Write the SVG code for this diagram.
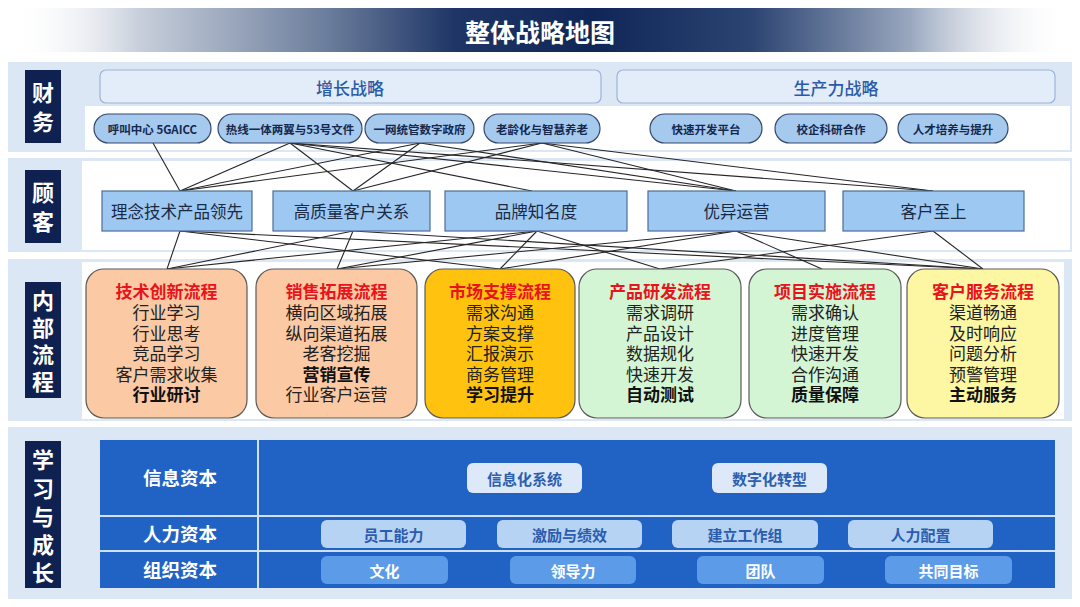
<svg xmlns="http://www.w3.org/2000/svg" width="1080" height="607" viewBox="0 0 1080 607">
<defs>
<linearGradient id="tg" x1="0" y1="0" x2="1" y2="0">
<stop offset="0" stop-color="#ffffff" stop-opacity="0"/>
<stop offset="0.12" stop-color="#c9d0dc"/>
<stop offset="0.3" stop-color="#6b7d9c"/>
<stop offset="0.42" stop-color="#1e3566"/>
<stop offset="0.55" stop-color="#0f2656"/>
<stop offset="0.7" stop-color="#2c4472"/>
<stop offset="0.85" stop-color="#9aa8bf"/>
<stop offset="1" stop-color="#ffffff" stop-opacity="0"/>
</linearGradient>
<style>
.cjk{font-family:"Noto Sans CJK SC","Noto Sans",sans-serif;text-anchor:middle;dominant-baseline:central}
.tight{font-family:"Liberation Sans","Noto Sans CJK SC",sans-serif}
.band{fill:#dce7f6}
.inner{fill:#ffffff}
.lbl{fill:#0e2150}
.lblt{font-size:22px;font-weight:bold;fill:#ffffff}
.strat{fill:#e3edf9;stroke:#9cb3d6;stroke-width:1.2}
.stratt{font-size:17px;fill:#2b5aa8;font-weight:500}
.pill{fill:#a6c9ee;stroke:#34496b;stroke-width:1.2}
.pillt{font-size:11.5px;font-weight:bold;fill:#13284f}
.cust{fill:#9dc8f2;stroke:#4d6d94;stroke-width:1.2}
.custt{font-size:16.5px;fill:#1b2a44}
.proc{stroke:#5a5a5a;stroke-width:1.2}
.ptxt{font-size:17px;fill:#222222}
.ptitle{font-weight:bold;fill:#e8141c}
.pbold{font-weight:bold;fill:#111111}
.conn line{stroke:#262626;stroke-width:1.1}
.tbl{fill:#2163c4}
.div{stroke:#cfe0f7;stroke-width:2}
.rowt{font-size:18.5px;font-weight:bold;fill:#ffffff}
.ip{fill:#dde9f8}
.ipt{font-size:15px;font-weight:bold;fill:#2d5fb0}
.hp{fill:#b7d3f4}
.hpt{font-size:15px;font-weight:bold;fill:#2b5cae}
.op{fill:#5c9be8}
.opt{font-size:15px;font-weight:bold;fill:#ffffff}
</style>
</defs>
<rect width="1080" height="607" fill="#ffffff"/>

<g id="title">
<rect x="10" y="8" width="1060" height="44" fill="url(#tg)"/>
<text class="cjk" x="540" y="31" font-size="25" font-weight="bold" fill="#ffffff">整体战略地图</text>
</g>

<g id="bands">
<rect class="band" x="8" y="62" width="1064" height="90"/>
<rect class="inner" x="85" y="106" width="985" height="44"/>
<rect class="band" x="8" y="158" width="1064" height="94"/>
<rect class="inner" x="82" y="161" width="988" height="89"/>
<rect class="band" x="8" y="259" width="1064" height="162"/>
<rect class="inner" x="82" y="262" width="982" height="157"/>
<rect class="band" x="8" y="427" width="1064" height="172"/>
</g>

<g id="label-finance">
<rect class="lbl" x="25" y="70" width="36" height="73"/>
<text class="cjk tight lblt"><tspan x="43" y="93">财</tspan><tspan x="43" y="122">务</tspan></text>
</g>
<g id="label-customer">
<rect class="lbl" x="25" y="170" width="36" height="73"/>
<text class="cjk tight lblt"><tspan x="43" y="193">顾</tspan><tspan x="43" y="222">客</tspan></text>
</g>
<g id="label-process">
<rect class="lbl" x="25" y="282" width="36" height="116"/>
<text class="cjk tight lblt"><tspan x="43" y="301">内</tspan><tspan x="43" y="328">部</tspan><tspan x="43" y="355">流</tspan><tspan x="43" y="382">程</tspan></text>
</g>
<g id="label-learning">
<rect class="lbl" x="25" y="441" width="36" height="147"/>
<text class="cjk tight lblt"><tspan x="43" y="460">学</tspan><tspan x="43" y="489">习</tspan><tspan x="43" y="517">与</tspan><tspan x="43" y="545">成</tspan><tspan x="43" y="573">长</tspan></text>
</g>

<g id="growth-strategy">
<rect class="strat" x="100" y="70" width="501" height="33" rx="6"/>
<text class="cjk stratt" x="350" y="87">增长战略</text>
</g>
<g id="productivity-strategy">
<rect class="strat" x="617" y="70" width="438" height="33" rx="6"/>
<text class="cjk stratt" x="836" y="87">生产力战略</text>
</g>

<g class="conn" id="connectors">
<line x1="153" y1="143" x2="180" y2="191"/>
<line x1="290" y1="143" x2="180" y2="191"/>
<line x1="290" y1="143" x2="353" y2="191"/>
<line x1="290" y1="143" x2="532" y2="191"/>
<line x1="290" y1="143" x2="736" y2="191"/>
<line x1="290" y1="143" x2="933" y2="191"/>
<line x1="420" y1="143" x2="353" y2="191"/>
<line x1="420" y1="143" x2="180" y2="191"/>
<line x1="420" y1="143" x2="736" y2="191"/>
<line x1="542" y1="143" x2="180" y2="191"/>
<line x1="542" y1="143" x2="353" y2="191"/>
<line x1="542" y1="143" x2="736" y2="191"/>
<line x1="542" y1="143" x2="933" y2="191"/>
<line x1="180" y1="231" x2="167" y2="269"/>
<line x1="180" y1="231" x2="500" y2="269"/>
<line x1="180" y1="231" x2="983" y2="269"/>
<line x1="353" y1="231" x2="167" y2="269"/>
<line x1="353" y1="231" x2="337" y2="269"/>
<line x1="353" y1="231" x2="983" y2="269"/>
<line x1="537" y1="231" x2="167" y2="269"/>
<line x1="537" y1="231" x2="337" y2="269"/>
<line x1="537" y1="231" x2="500" y2="269"/>
<line x1="537" y1="231" x2="660" y2="269"/>
<line x1="736" y1="231" x2="337" y2="269"/>
<line x1="736" y1="231" x2="500" y2="269"/>
<line x1="736" y1="231" x2="822" y2="269"/>
<line x1="736" y1="231" x2="983" y2="269"/>
<line x1="933" y1="231" x2="660" y2="269"/>
<line x1="933" y1="231" x2="983" y2="269"/>
</g>

<g id="pill-1"><rect class="pill" x="94" y="114" width="117" height="29" rx="14.5"/><text class="cjk pillt" x="152.5" y="128.5">呼叫中心 5GAICC</text></g>
<g id="pill-2"><rect class="pill" x="218" y="114" width="144" height="29" rx="14.5"/><text class="cjk pillt" x="290" y="128.5">热线一体两翼与53号文件</text></g>
<g id="pill-3"><rect class="pill" x="365" y="114" width="109" height="29" rx="14.5"/><text class="cjk pillt" x="419.5" y="128.5">一网统管数字政府</text></g>
<g id="pill-4"><rect class="pill" x="484" y="114" width="116" height="29" rx="14.5"/><text class="cjk pillt" x="542" y="128.5">老龄化与智慧养老</text></g>
<g id="pill-5"><rect class="pill" x="650" y="114" width="112" height="29" rx="14.5"/><text class="cjk pillt" x="706" y="128.5">快速开发平台</text></g>
<g id="pill-6"><rect class="pill" x="775" y="114" width="112" height="29" rx="14.5"/><text class="cjk pillt" x="831" y="128.5">校企科研合作</text></g>
<g id="pill-7"><rect class="pill" x="898" y="114" width="110" height="29" rx="14.5"/><text class="cjk pillt" x="953" y="128.5">人才培养与提升</text></g>

<g id="cust-1"><rect class="cust" x="102" y="191" width="150" height="40"/><text class="cjk custt" x="177" y="211">理念技术产品领先</text></g>
<g id="cust-2"><rect class="cust" x="273" y="191" width="157" height="40"/><text class="cjk custt" x="351.5" y="211">高质量客户关系</text></g>
<g id="cust-3"><rect class="cust" x="445" y="191" width="182" height="40"/><text class="cjk custt" x="536" y="211">品牌知名度</text></g>
<g id="cust-4"><rect class="cust" x="648" y="191" width="177" height="40"/><text class="cjk custt" x="736.5" y="211">优异运营</text></g>
<g id="cust-5"><rect class="cust" x="843" y="191" width="181" height="40"/><text class="cjk custt" x="933.5" y="211">客户至上</text></g>

<g id="proc-1">
<rect class="proc" x="86" y="269" width="161" height="149" rx="18" fill="#fbc9a3"/>
<text class="cjk tight ptxt"><tspan class="ptitle" x="166.5" y="292">技术创新流程</tspan><tspan x="166.5" y="313">行业学习</tspan><tspan x="166.5" y="333.5">行业思考</tspan><tspan x="166.5" y="354">竞品学习</tspan><tspan x="166.5" y="374.5">客户需求收集</tspan><tspan class="pbold" x="166.5" y="395">行业研讨</tspan></text>
</g>
<g id="proc-2">
<rect class="proc" x="256" y="269" width="161" height="149" rx="18" fill="#fbc9a3"/>
<text class="cjk tight ptxt"><tspan class="ptitle" x="336.5" y="292">销售拓展流程</tspan><tspan x="336.5" y="313">横向区域拓展</tspan><tspan x="336.5" y="333.5">纵向渠道拓展</tspan><tspan x="336.5" y="354">老客挖掘</tspan><tspan class="pbold" x="336.5" y="374.5">营销宣传</tspan><tspan x="336.5" y="395">行业客户运营</tspan></text>
</g>
<g id="proc-3">
<rect class="proc" x="425" y="269" width="150" height="149" rx="18" fill="#ffc20e"/>
<text class="cjk tight ptxt"><tspan class="ptitle" x="500" y="292">市场支撑流程</tspan><tspan x="500" y="313">需求沟通</tspan><tspan x="500" y="333.5">方案支撑</tspan><tspan x="500" y="354">汇报演示</tspan><tspan x="500" y="374.5">商务管理</tspan><tspan class="pbold" x="500" y="395">学习提升</tspan></text>
</g>
<g id="proc-4">
<rect class="proc" x="579" y="269" width="162" height="149" rx="18" fill="#d4f5d4"/>
<text class="cjk tight ptxt"><tspan class="ptitle" x="660" y="292">产品研发流程</tspan><tspan x="660" y="313">需求调研</tspan><tspan x="660" y="333.5">产品设计</tspan><tspan x="660" y="354">数据规化</tspan><tspan x="660" y="374.5">快速开发</tspan><tspan class="pbold" x="660" y="395">自动测试</tspan></text>
</g>
<g id="proc-5">
<rect class="proc" x="749" y="269" width="152" height="149" rx="18" fill="#d4f5d4"/>
<text class="cjk tight ptxt"><tspan class="ptitle" x="825" y="292">项目实施流程</tspan><tspan x="825" y="313">需求确认</tspan><tspan x="825" y="333.5">进度管理</tspan><tspan x="825" y="354">快速开发</tspan><tspan x="825" y="374.5">合作沟通</tspan><tspan class="pbold" x="825" y="395">质量保障</tspan></text>
</g>
<g id="proc-6">
<rect class="proc" x="907" y="269" width="152" height="149" rx="18" fill="#fdf6a3"/>
<text class="cjk tight ptxt"><tspan class="ptitle" x="983" y="292">客户服务流程</tspan><tspan x="983" y="313">渠道畅通</tspan><tspan x="983" y="333.5">及时响应</tspan><tspan x="983" y="354">问题分析</tspan><tspan x="983" y="374.5">预警管理</tspan><tspan class="pbold" x="983" y="395">主动服务</tspan></text>
</g>

<g id="learning-table">
<rect class="tbl" x="100" y="440" width="955" height="148"/>
<line class="div" x1="258" y1="440" x2="258" y2="588"/>
<line class="div" x1="100" y1="516" x2="1055" y2="516"/>
<line class="div" x1="100" y1="551" x2="1055" y2="551"/>
<text class="cjk rowt" x="180" y="477">信息资本</text>
<text class="cjk rowt" x="180" y="533">人力资本</text>
<text class="cjk rowt" x="180" y="569">组织资本</text>
</g>
<g id="info-1"><rect class="ip" x="467" y="463" width="115" height="30" rx="6"/><text class="cjk ipt" x="524.5" y="478">信息化系统</text></g>
<g id="info-2"><rect class="ip" x="712" y="463" width="115" height="30" rx="6"/><text class="cjk ipt" x="769.5" y="478">数字化转型</text></g>
<g id="hr-1"><rect class="hp" x="321" y="520" width="145" height="28" rx="6"/><text class="cjk hpt" x="393.5" y="534">员工能力</text></g>
<g id="hr-2"><rect class="hp" x="497" y="520" width="145" height="28" rx="6"/><text class="cjk hpt" x="569.5" y="534">激励与绩效</text></g>
<g id="hr-3"><rect class="hp" x="672" y="520" width="146" height="28" rx="6"/><text class="cjk hpt" x="745" y="534">建立工作组</text></g>
<g id="hr-4"><rect class="hp" x="848" y="520" width="145" height="28" rx="6"/><text class="cjk hpt" x="920.5" y="534">人力配置</text></g>
<g id="org-1"><rect class="op" x="321" y="556" width="127" height="28" rx="6"/><text class="cjk opt" x="384.5" y="570">文化</text></g>
<g id="org-2"><rect class="op" x="510" y="556" width="126" height="28" rx="6"/><text class="cjk opt" x="573" y="570">领导力</text></g>
<g id="org-3"><rect class="op" x="697" y="556" width="127" height="28" rx="6"/><text class="cjk opt" x="760.5" y="570">团队</text></g>
<g id="org-4"><rect class="op" x="885" y="556" width="127" height="28" rx="6"/><text class="cjk opt" x="948.5" y="570">共同目标</text></g>
</svg>
